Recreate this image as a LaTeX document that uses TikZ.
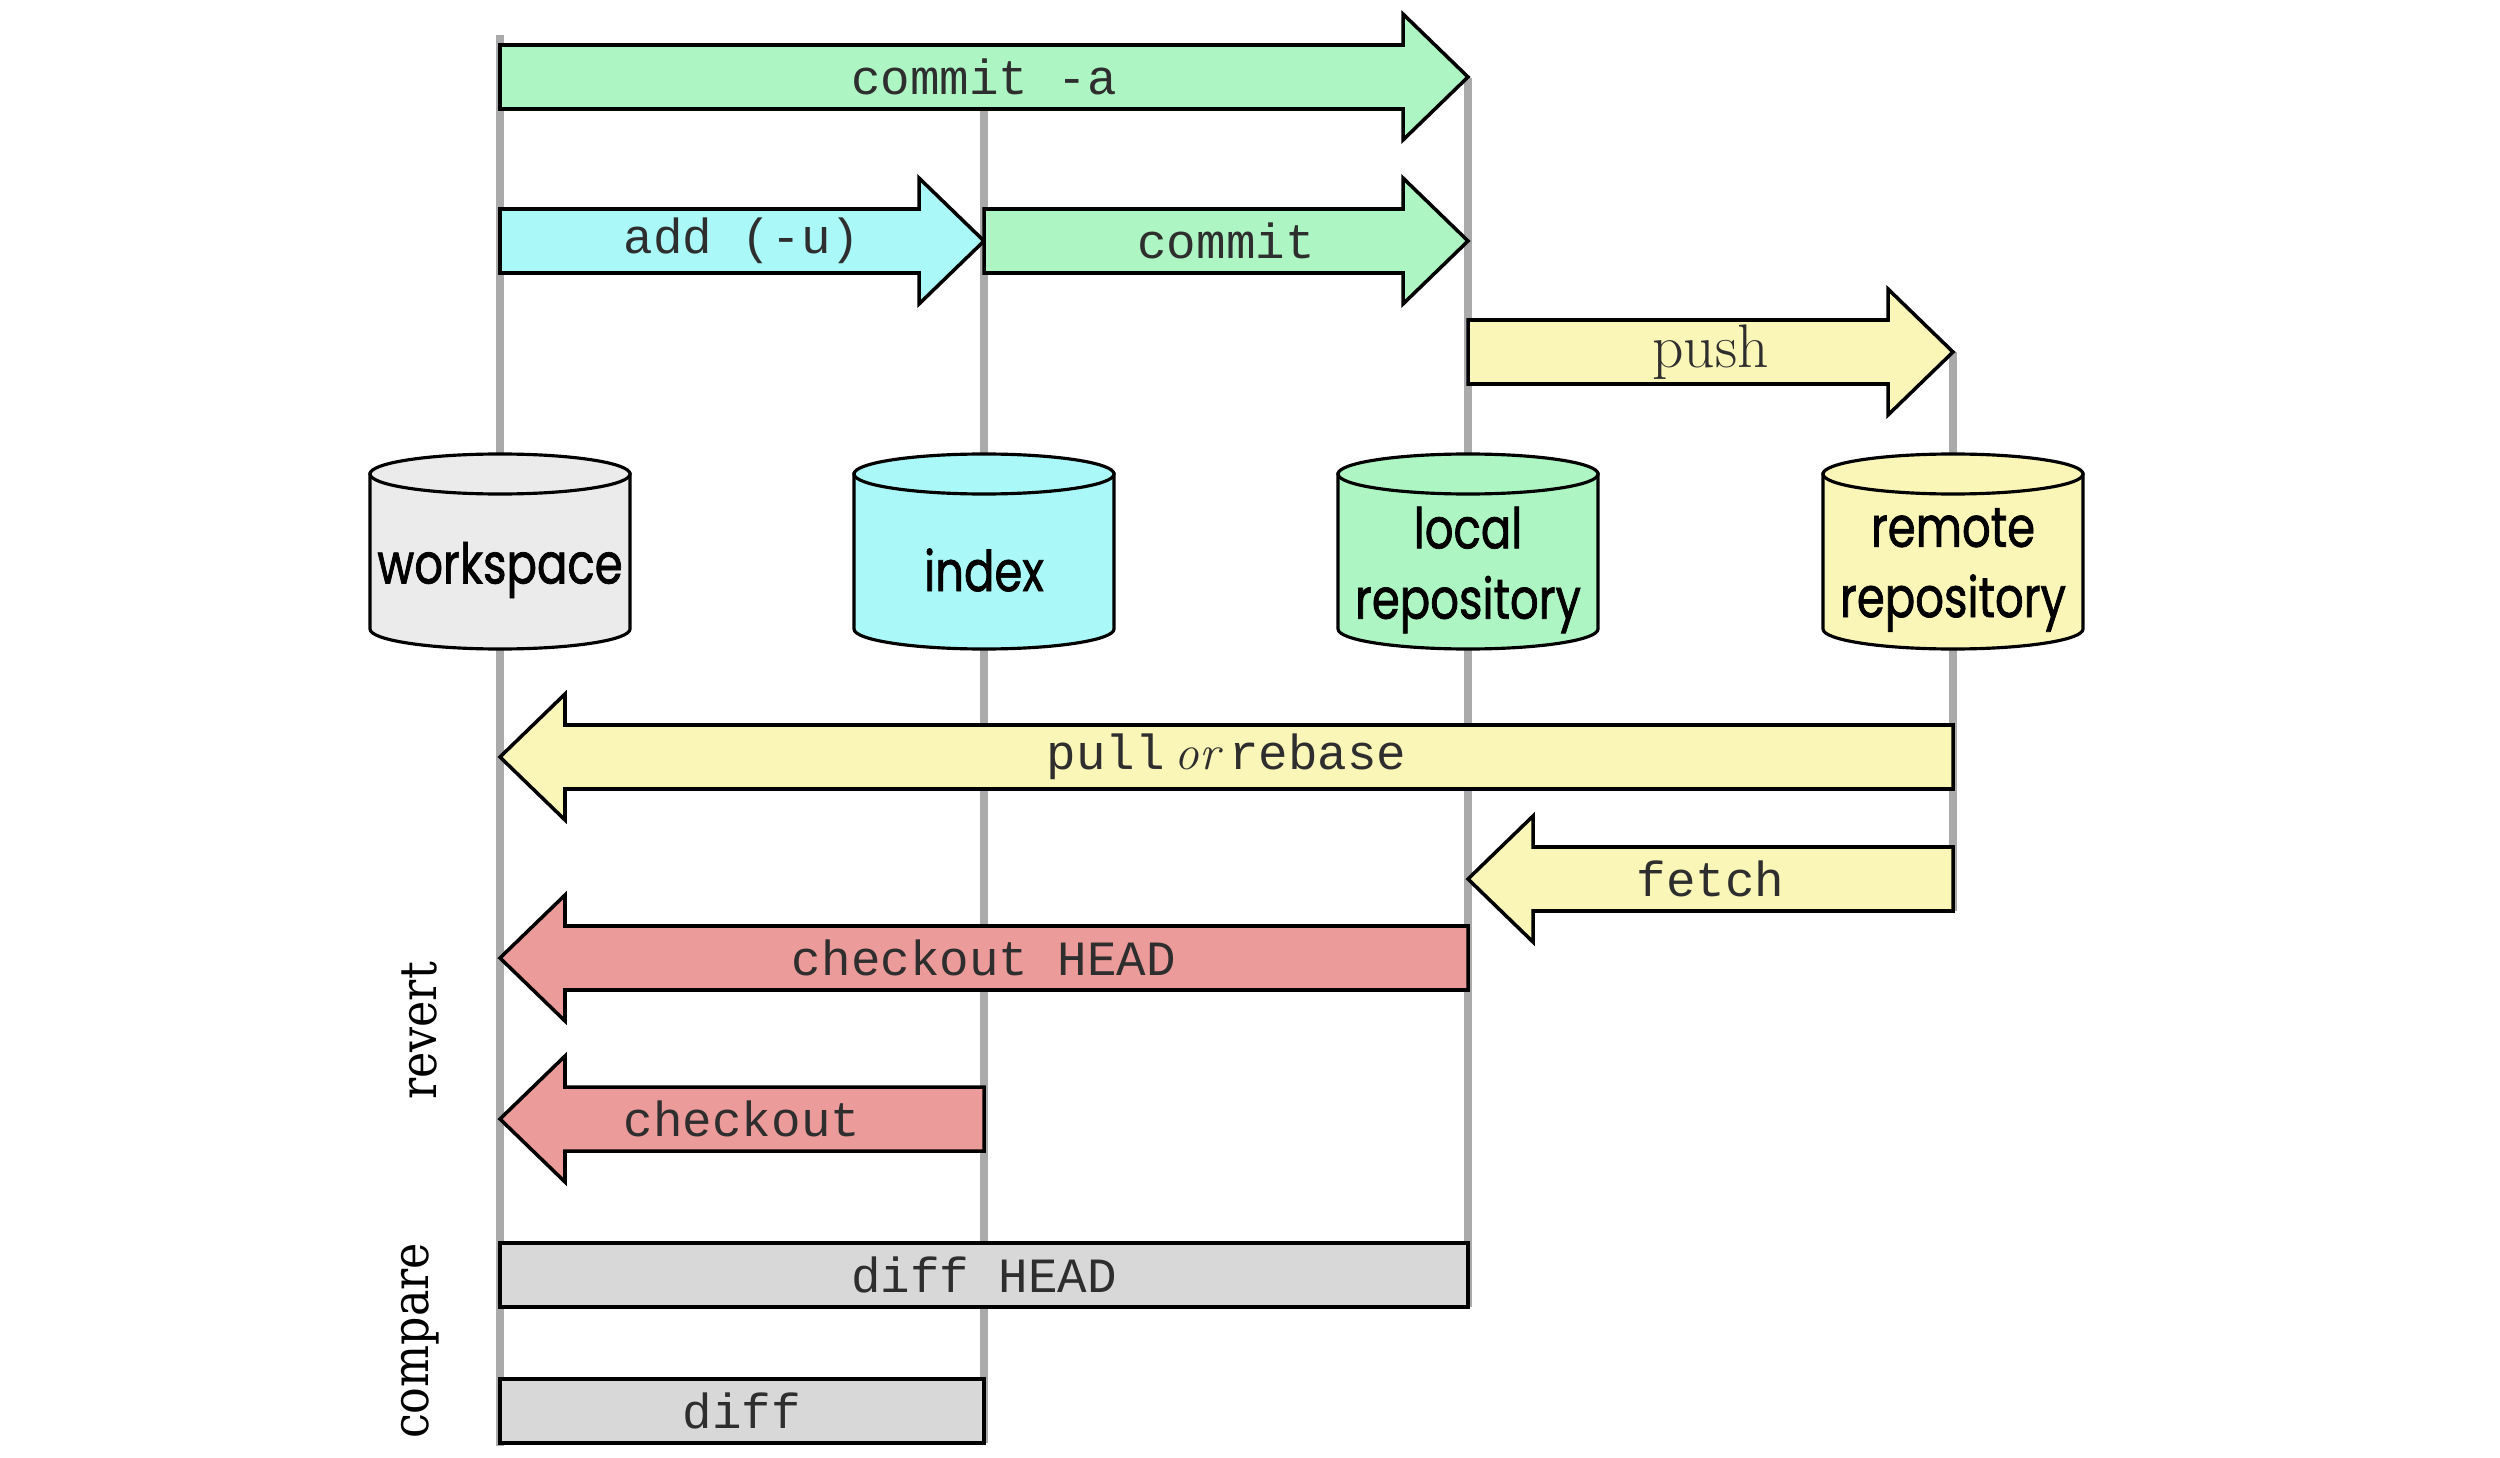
\documentclass[tikz,border=0pt]{standalone}
\usepackage{fontspec}
\usetikzlibrary{calc}
\newfontfamily\monofont{Liberation Mono}
\newfontfamily\cylfont[FakeStretch=0.80,FakeBold=1.2]{Poppins}
\newfontfamily\sidefont[FakeStretch=0.87]{DejaVu Serif}

\definecolor{cgreen}{HTML}{AEF5C4}
\definecolor{ccyan}{HTML}{AAF8F8}
\definecolor{cyellow}{HTML}{FAF6B8}
\definecolor{cred}{HTML}{EB9B99}
\definecolor{cgray}{HTML}{D8D8D8}
\definecolor{cws}{HTML}{EBEBEB}
\definecolor{clane}{HTML}{AAAAAA}

% right-pointing block arrow: name, tail x, tip x, centre y, fill, label
\newcommand\rightblock[6]{%
  \draw[block, fill=#5] (#2,{#4-32}) -- ({#3-65},{#4-32}) -- ({#3-65},{#4-63})
    -- (#3,#4) -- ({#3-65},{#4+63}) -- ({#3-65},{#4+32}) -- (#2,{#4+32}) -- cycle;
  \node[cmd] (#1) at ({(#2+#3)/2},#4) {#6};}
% left-pointing block arrow: name, tip x, tail x, centre y, fill, label
\newcommand\leftblock[6]{%
  \draw[block, fill=#5] (#3,{#4-32}) -- ({#2+65},{#4-32}) -- ({#2+65},{#4-63})
    -- (#2,#4) -- ({#2+65},{#4+63}) -- ({#2+65},{#4+32}) -- (#3,{#4+32}) -- cycle;
  \node[cmd] (#1) at ({(#2+#3)/2},#4) {#6};}
% plain bar: name, left x, right x, centre y, fill, label
\newcommand\barblock[6]{%
  \draw[block, fill=#5] (#2,{#4-32}) rectangle (#3,{#4+32});
  \node[cmd] (#1) at ({(#2+#3)/2},#4) {#6};}
% storage drum centred on a lane: x, fill
\newcommand\drum[2]{%
  \draw[cyl, fill=#2] ({#1-130},474) -- ({#1-130},629)
    arc[start angle=180, end angle=0, x radius=130, y radius=20] -- ({#1+130},474) -- cycle;
  \draw[cyl, fill=#2] (#1,474) ellipse[x radius=130, y radius=20];}

\begin{document}
\begin{tikzpicture}[x=0.01cm, y=-0.01cm,
  lane/.style={draw=clane, line width=2.3pt},
  block/.style={draw=black, line width=1pt, line join=miter},
  cyl/.style={draw=black, line width=0.9pt},
  cmd/.style={font=\monofont\fontsize{14}{16}\selectfont, text=black!82, inner sep=0pt},
  store/.style={font=\cylfont\fontsize{16}{20}\selectfont, align=center, inner sep=0pt},
  side/.style={font=\sidefont\fontsize{14.5}{16}\selectfont, rotate=90, inner sep=0pt}]
\useasboundingbox (0,0) rectangle (2500,1458);
\fill[white] (0,0) rectangle (2500,1458);

\def\xW{500}\def\xI{984}\def\xL{1468}\def\xR{1953}

% lanes
\coordinate (wtop) at (\xW,35);  \coordinate (wbot) at (\xW,1446);
\coordinate (itop) at (\xI,110); \coordinate (ibot) at (\xI,1443);
\coordinate (ltop) at (\xL,78);  \coordinate (lbot) at (\xL,1307);
\coordinate (rtop) at (\xR,352); \coordinate (rbot) at (\xR,911);
\draw[lane] (wtop) -- (wbot);
\draw[lane] (itop) -- (ibot);
\draw[lane] (ltop) -- (lbot);
\draw[lane] (rtop) -- (rbot);

% storage areas
\drum{\xW}{cws}
\drum{\xI}{ccyan}
\drum{\xL}{cgreen}
\drum{\xR}{cyellow}
\node[store] (ws) at (\xW,570) {workspace};
\node[store] (ix) at (\xI,570) {index};
\node[store] (lr) at (\xL,570) {local\\repository};
\node[store] (rr) at (\xR,570) {remote\\repository};

% commands
\rightblock{commita}{\xW}{\xL}{77}{cgreen}{commit -a}
\rightblock{add}{\xW}{\xI}{241}{ccyan}{add (-u)}
\rightblock{commit}{\xI}{\xL}{241}{cgreen}{commit}
\rightblock{push}{\xL}{\xR}{352}{cyellow}{\rmfamily\fontsize{17.5}{18}\selectfont push}
\leftblock{pull}{\xW}{\xR}{757}{cyellow}{pull\hspace{.2em}{\rmfamily\itshape or}\hspace{.2em}rebase}
\leftblock{fetch}{\xL}{\xR}{879}{cyellow}{fetch}
\leftblock{cohead}{\xW}{\xL}{958}{cred}{checkout HEAD}
\leftblock{co}{\xW}{\xI}{1119}{cred}{checkout}
\barblock{diffhead}{\xW}{\xL}{1275}{cgray}{diff HEAD}
\barblock{diff}{\xW}{\xI}{1411}{cgray}{diff}

% group labels
\node[side] (revert) at (420,1031) {revert};
\node[side] (compare) at (420,1341) {compare};
\end{tikzpicture}
\end{document}
